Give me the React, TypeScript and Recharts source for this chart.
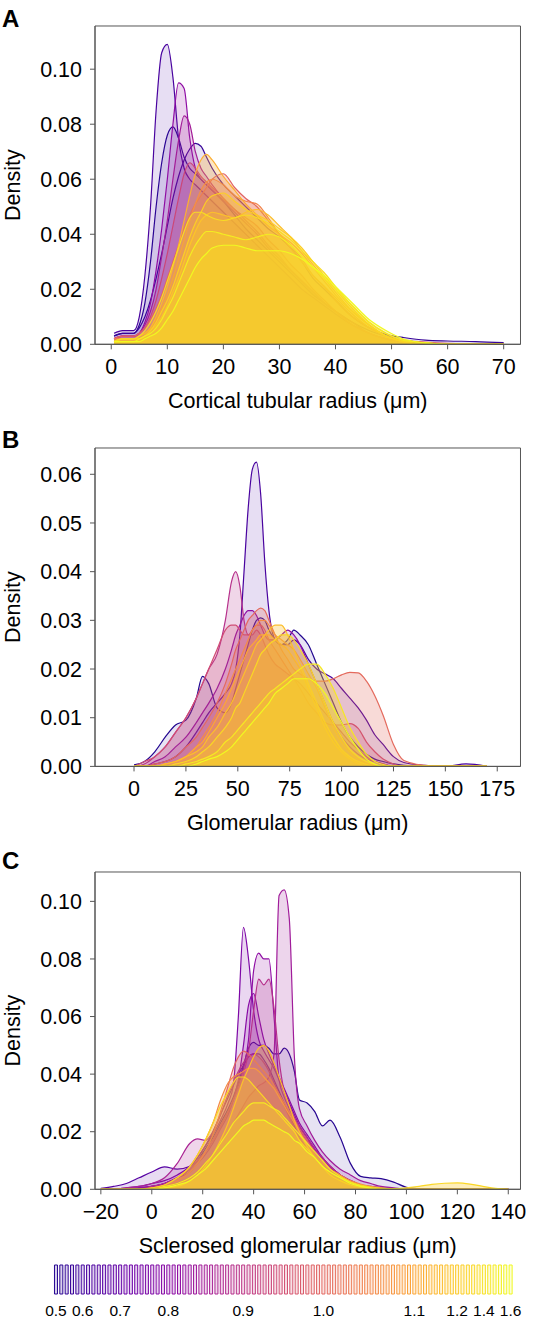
import React from 'react';
import { ComposedChart, Area, XAxis, YAxis, ReferenceArea, Label, BarChart, Bar, Cell } from 'recharts';

// ---------- Panel A: cortical tubular radius (um) ----------
const xA = [0.5, 2, 4, 5, 6, 7, 8, 9, 10, 11, 12, 13, 14, 15, 16, 17, 18, 20, 22, 24, 26, 28, 30, 32, 34, 36, 38, 40, 43, 46, 49, 52, 56, 60, 65, 70];
const A1 = [.004, .005, .005, .010, .025, .050, .085, .106, .109, .097, .075, .064, .060, .058, .056, .054, .052, .048, .044, .040, .036, .032, .028, .024, .020, .017, .014, .011, .007, .004, .002, .001, .0005, 0, 0, 0];
const A2 = [.003, .004, .004, .007, .015, .030, .050, .066, .076, .079, .075, .068, .064, .062, .060, .058, .056, .052, .047, .042, .038, .034, .030, .026, .022, .018, .015, .012, .008, .005, .003, .0015, .0005, 0, 0, 0];
const A3 = [.002, .003, .003, .004, .008, .015, .027, .042, .060, .080, .095, .093, .075, .064, .060, .058, .056, .052, .048, .044, .040, .035, .031, .027, .023, .019, .015, .012, .007, .004, .002, .001, 0, 0, 0, 0];
const A4 = [.002, .003, .003, .004, .007, .012, .020, .032, .045, .060, .074, .083, .080, .070, .064, .061, .058, .053, .049, .045, .041, .036, .032, .027, .023, .019, .015, .012, .008, .004, .002, .001, 0, 0, 0, 0];
const A5 = [.003, .004, .004, .006, .010, .016, .024, .033, .043, .053, .061, .067, .071, .073, .072, .068, .064, .058, .054, .050, .046, .042, .039, .035, .030, .024, .020, .016, .010, .006, .0035, .0025, .0015, .0012, .001, .0006];
const A6 = [.002, .003, .003, .004, .006, .009, .013, .018, .024, .030, .036, .042, .047, .051, .054, .057, .060, .062, .057, .053, .050, .045, .040, .036, .031, .025, .021, .016, .010, .006, .003, .0015, .0008, .0003, 0, 0];
const A7 = [.002, .003, .003, .004, .006, .010, .016, .024, .033, .043, .053, .062, .066, .064, .061, .059, .057, .053, .049, .046, .043, .038, .034, .029, .025, .020, .016, .012, .007, .004, .002, .001, 0, 0, 0, 0];
const A8 = [.002, .002, .002, .003, .004, .006, .009, .013, .018, .024, .031, .038, .045, .051, .056, .059, .060, .058, .054, .052, .051, .046, .040, .035, .030, .025, .021, .017, .011, .006, .003, .001, 0, 0, 0, 0];
const A9 = [.001, .002, .002, .003, .004, .006, .010, .015, .021, .028, .036, .045, .054, .062, .067, .069, .067, .061, .056, .051, .047, .043, .040, .037, .033, .028, .023, .018, .012, .007, .003, .001, 0, 0, 0, 0];
const A10 = [.001, .002, .002, .002, .003, .005, .007, .010, .014, .019, .024, .030, .036, .041, .045, .047, .048, .047, .046, .048, .049, .047, .043, .039, .034, .029, .024, .019, .012, .007, .003, .001, 0, 0, 0, 0];
const A11 = [.001, .002, .002, .002, .003, .005, .008, .012, .016, .021, .027, .033, .039, .044, .048, .052, .054, .055, .052, .049, .047, .045, .042, .039, .035, .030, .025, .020, .013, .007, .003, .001, 0, 0, 0, 0];
const A12 = [.001, .002, .002, .003, .005, .008, .012, .017, .023, .029, .035, .041, .046, .048, .048, .047, .046, .045, .046, .047, .046, .044, .041, .038, .034, .030, .026, .021, .014, .008, .004, .0015, .0005, 0, 0, 0];
const A13 = [.001, .001, .001, .002, .003, .004, .006, .009, .013, .017, .022, .027, .032, .036, .039, .041, .041, .040, .039, .038, .039, .040, .039, .036, .032, .028, .024, .020, .014, .008, .004, .0015, .0005, 0, 0, 0];
const A14 = [.001, .001, .001, .001, .002, .003, .004, .006, .009, .012, .016, .020, .024, .028, .031, .033, .035, .036, .036, .035, .034, .034, .034, .033, .031, .028, .025, .021, .015, .009, .005, .002, .0005, 0, 0, 0];
const curvesA = [A1, A2, A3, A4, A5, A6, A7, A8, A9, A10, A11, A12, A13, A14];
const tonesA = [0.12, 0.05, 0.3, 0.36, 0.08, 0.6, 0.5, 0.7, 0.82, 0.86, 0.9, 0.93, 0.97, 1.0];

// ---------- Panel B: glomerular radius (um) ----------
const xB = [0, 5, 10, 15, 20, 25, 30, 33, 36, 40, 44, 47, 49, 51, 53, 55, 57, 59, 61, 63, 65, 68, 71, 74, 77, 80, 84, 88, 92, 96, 100, 104, 108, 112, 116, 120, 125, 130, 140, 150, 160, 170];
const B1 = [0, 0, .0005, .001, .002, .004, .007, .009, .011, .013, .015, .017, .020, .027, .040, .053, .061, .0625, .056, .042, .032, .026, .025, .025, .026, .025, .022, .020, .019, .018, .016, .014, .012, .0095, .0065, .0045, .002, .0008, .0002, 0, .0005, 0];
const B2 = [.0003, .001, .003, .006, .0085, .0095, .014, .0185, .017, .012, .011, .013, .016, .019, .022, .025, .028, .030, .0305, .030, .028, .026, .025, .026, .028, .027, .025, .021, .017, .013, .009, .006, .004, .0025, .0015, .001, .0005, .0002, 0, 0, 0, 0];
const B3 = [0, .0005, .002, .004, .007, .010, .014, .017, .020, .023, .030, .038, .040, .037, .030, .027, .027, .028, .027, .025, .023, .021, .020, .019, .018, .017, .015, .013, .011, .009, .007, .005, .0035, .002, .001, .0005, 0, 0, 0, 0, 0, 0];
const B4 = [0, 0, .001, .002, .004, .006, .009, .011, .013, .016, .020, .024, .027, .029, .031, .032, .032, .031, .029, .027, .026, .026, .027, .028, .027, .025, .021, .017, .013, .009, .006, .004, .0025, .0015, .001, .0005, 0, 0, 0, 0, 0, 0];
const B5 = [0, 0, .0005, .001, .002, .004, .006, .008, .010, .013, .017, .021, .024, .026, .028, .030, .031, .032, .0325, .032, .030, .027, .024, .022, .020, .019, .018, .0175, .0175, .018, .0188, .0193, .0192, .0175, .0145, .0105, .0045, .0012, .0002, 0, 0, 0];
const B6 = [0, .001, .002, .004, .007, .010, .014, .017, .020, .024, .028, .029, .029, .028, .027, .027, .028, .029, .029, .028, .026, .024, .022, .020, .018, .016, .013, .011, .009, .0085, .0085, .0088, .0078, .005, .003, .0015, .0005, 0, 0, 0, 0, 0];
const B7 = [0, 0, 0, .0005, .001, .002, .004, .006, .008, .011, .015, .018, .020, .022, .024, .026, .028, .029, .030, .030, .029, .027, .026, .025, .024, .022, .019, .016, .012, .008, .005, .003, .0015, .0007, .0003, 0, 0, 0, 0, 0, 0, 0];
const B8 = [0, 0, 0, .0005, .001, .002, .004, .005, .007, .010, .013, .016, .018, .020, .022, .024, .025, .026, .027, .027, .027, .026, .025, .024, .022, .020, .016, .012, .008, .005, .003, .0015, .0006, 0, 0, 0, 0, 0, 0, 0, 0, 0];
const B9 = [0, 0, 0, .0005, .001, .002, .003, .004, .006, .008, .011, .013, .015, .017, .019, .021, .023, .025, .026, .027, .028, .029, .029, .027, .024, .021, .017, .013, .009, .006, .0035, .002, .001, .0004, 0, 0, 0, 0, 0, 0, 0, 0];
const B10 = [0, 0, 0, 0, .0005, .001, .002, .003, .004, .006, .008, .010, .012, .013, .015, .017, .019, .021, .023, .024, .025, .026, .027, .027, .026, .024, .021, .017, .013, .009, .006, .0035, .002, .001, .0004, 0, 0, 0, 0, 0, 0, 0];
const B11 = [0, 0, 0, 0, 0, .0005, .001, .0015, .002, .003, .005, .006, .007, .008, .009, .010, .011, .012, .013, .014, .015, .016, .017, .018, .019, .020, .021, .021, .019, .016, .012, .008, .005, .0025, .001, .0004, 0, 0, 0, 0, 0, 0];
const B12 = [0, 0, 0, 0, 0, 0, .0005, .001, .0015, .002, .003, .004, .005, .006, .007, .008, .009, .010, .011, .012, .013, .015, .016, .017, .018, .018, .018, .017, .015, .012, .009, .006, .0035, .0015, .0005, 0, 0, 0, 0, 0, 0, 0];
const curvesB = [B1, B2, B3, B4, B5, B6, B7, B8, B9, B10, B11, B12];
const tonesB = [0.12, 0.04, 0.42, 0.3, 0.62, 0.52, 0.72, 0.8, 0.86, 0.92, 0.96, 1.0];

// ---------- Panel C: sclerosed glomerular radius (um) ----------
const xC = [-20, -15, -10, -5, 0, 5, 10, 15, 18, 21, 24, 27, 30, 32, 34, 36, 38, 40, 42, 44, 46, 48, 50, 52, 54, 56, 58, 61, 64, 67, 70, 74, 78, 82, 86, 90, 95, 100, 105, 110, 115, 120, 125, 130, 135, 140];
const C1 = [0, 0, 0, 0, .0005, .001, .002, .004, .006, .009, .012, .016, .020, .023, .026, .029, .032, .034, .036, .037, .039, .047, .102, .104, .094, .046, .028, .022, .017, .013, .010, .007, .005, .003, .002, .001, .0005, 0, 0, 0, 0, 0, 0, 0, 0, 0];
const C2 = [0, 0, .0005, .001, .002, .003, .005, .008, .011, .015, .019, .024, .030, .036, .060, .091, .080, .062, .052, .048, .045, .042, .038, .034, .030, .026, .022, .018, .014, .011, .008, .005, .003, .0015, .0007, .0003, 0, 0, 0, 0, 0, 0, 0, 0, 0, 0];
const C3 = [0, 0, 0, .0005, .001, .002, .004, .007, .010, .013, .017, .022, .027, .031, .036, .042, .052, .076, .082, .080, .080, .060, .038, .032, .028, .024, .021, .017, .014, .011, .008, .005, .003, .0015, .0008, .0003, 0, 0, 0, 0, 0, 0, 0, 0, 0, 0];
const C4 = [0, 0, 0, 0, .001, .002, .004, .007, .010, .013, .017, .022, .027, .031, .035, .040, .048, .062, .073, .071, .073, .063, .045, .034, .029, .025, .022, .018, .014, .011, .008, .005, .003, .0015, .0007, .0003, 0, 0, 0, 0, 0, 0, 0, 0, 0, 0];
const C5 = [0, 0, 0, 0, .001, .002, .004, .006, .009, .012, .016, .021, .026, .031, .038, .050, .064, .068, .060, .052, .047, .043, .039, .035, .031, .027, .023, .019, .015, .011, .008, .005, .003, .0015, .0007, 0, 0, 0, 0, 0, 0, 0, 0, 0, 0, 0];
const C6 = [0, 0, 0, .0005, .001, .002, .004, .007, .010, .014, .018, .023, .028, .032, .037, .043, .049, .051, .050, .050, .049, .047, .047, .049, .047, .041, .031, .030, .027, .022, .024, .018, .009, .0045, .004, .0037, .0025, .0007, .0002, 0, 0, 0, 0, 0, 0, 0];
const C7 = [.0003, .001, .002, .004, .006, .0078, .007, .008, .011, .015, .020, .026, .032, .036, .040, .043, .046, .047, .047, .045, .042, .038, .034, .030, .026, .022, .018, .014, .011, .008, .006, .004, .0025, .0015, .001, .0005, .0002, 0, 0, 0, 0, 0, 0, 0, 0, 0];
const C8 = [0, 0, .0005, .001, .002, .004, .009, .016, .0175, .017, .020, .026, .033, .037, .041, .044, .046, .047, .046, .044, .041, .037, .033, .029, .025, .021, .018, .014, .011, .008, .006, .004, .0025, .0015, .0008, .0003, 0, 0, 0, 0, 0, 0, 0, 0, 0, 0];
const C9 = [0, 0, 0, 0, .0005, .001, .003, .006, .009, .013, .019, .027, .036, .042, .046, .048, .047, .045, .043, .041, .039, .036, .033, .030, .027, .024, .021, .017, .013, .010, .007, .0045, .0025, .0012, .0005, 0, 0, 0, 0, 0, 0, 0, 0, 0, 0, 0];
const C10 = [0, 0, 0, 0, .0005, .0015, .004, .008, .012, .017, .023, .031, .037, .039, .040, .041, .042, .042, .041, .039, .037, .035, .032, .029, .026, .023, .020, .016, .012, .009, .007, .005, .003, .0018, .001, .0005, 0, 0, 0, 0, 0, 0, 0, 0, 0, 0];
const C11 = [0, 0, 0, 0, 0, .0005, .001, .003, .005, .008, .012, .017, .023, .028, .033, .038, .042, .046, .049, .050, .048, .044, .039, .034, .029, .024, .020, .015, .011, .008, .005, .003, .0015, .0007, .0003, 0, 0, 0, 0, 0, 0, 0, 0, 0, 0, 0];
const C12 = [0, 0, 0, 0, .0005, .0015, .004, .008, .012, .017, .023, .029, .034, .037, .039, .039, .038, .036, .034, .032, .030, .028, .026, .024, .022, .020, .017, .014, .011, .008, .006, .004, .0025, .0015, .0008, .0004, .0002, .0005, .001, .0017, .0021, .0022, .0018, .001, .0003, 0];
const C13 = [0, 0, 0, 0, 0, .001, .002, .004, .006, .009, .012, .016, .020, .023, .025, .027, .029, .030, .030, .030, .029, .028, .027, .025, .023, .021, .019, .016, .013, .010, .007, .0045, .0025, .0012, .0005, 0, 0, 0, 0, 0, 0, 0, 0, 0, 0, 0];
const C14 = [0, 0, 0, 0, 0, .0005, .0015, .003, .005, .007, .010, .013, .016, .018, .020, .022, .023, .024, .024, .024, .023, .022, .021, .020, .019, .017, .016, .013, .011, .008, .006, .004, .002, .001, .0004, 0, 0, 0, 0, 0, 0, 0, 0, 0, 0, 0];
const curvesC = [C1, C2, C3, C4, C5, C6, C7, C8, C9, C10, C11, C12, C13, C14];
const tonesC = [0.35, 0.25, 0.3, 0.42, 0.28, 0.05, 0.15, 0.38, 0.6, 0.72, 0.86, 0.92, 0.96, 1.0];

// ---------- colour bar ----------
const colorbarCount = 86;
const colorbarTickIndex = [0, 5, 12, 21, 35, 50, 67, 75, 80, 85];
const colorbarTickLabels = ['0.5', '0.6', '0.7', '0.8', '0.9', '1.0', '1.1', '1.2', '1.4', '1.6'];

// plasma colormap stops
const PLASMA = ['#0d0887', '#41049d', '#6a00a8', '#8f0da4', '#b12a90', '#cc4778', '#e16462', '#f2844b', '#fca636', '#fcce25', '#f0f921'];

function plasma(t: number) {
  const p = Math.max(0, Math.min(1, t)) * 10;
  const i = Math.min(9, Math.floor(p));
  const f = p - i;
  const a = PLASMA[i], b = PLASMA[i + 1];
  const ch = (s: string, k: number) => parseInt(s.slice(1 + k * 2, 3 + k * 2), 16);
  const mix = [0, 1, 2].map((k) => Math.round(ch(a, k) + (ch(b, k) - ch(a, k)) * f));
  return `rgb(${mix[0]},${mix[1]},${mix[2]})`;
}

// fills of the yellow end are pulled toward gold, like the dense overlap in the original
const fillTone = (t: number) => (t > 0.86 ? 0.86 + (t - 0.86) * 0.55 : t);

const FONT = '"Liberation Sans", Arial, Helvetica, sans-serif';
const AXIS = '#555';

function buildRows(xs: number[], curves: number[][]) {
  return xs.map((x, i) => {
    const row: Record<string, number> = { x };
    curves.forEach((c, k) => { row['s' + k] = c[i]; });
    return row;
  });
}

const fmtX = (v: number) => (v < 0 ? '\u2212' + Math.abs(v) : String(v));

interface PanelProps {
  letter: string;
  letterTop: number;
  plotTop: number;
  plotBottom: number;
  xs: number[];
  curves: number[][];
  tones: number[];
  xDomain: [number, number];
  xTicks: number[];
  yMax: number;
  yTicks: number[];
  xLabel: string;
}

function DensityPanel({ letter, letterTop, plotTop, plotBottom, xs, curves, tones, xDomain, xTicks, yMax, yTicks, xLabel }: PanelProps) {
  const data = buildRows(xs, curves);
  const order = tones.map((_, i) => i).sort((a, b) => tones[a] - tones[b]);
  const height = plotBottom - plotTop + 26 + 74;
  return (
    <>
      <div style={{ position: 'absolute', left: 2, top: letterTop, fontFamily: FONT, fontWeight: 'bold', fontSize: 24, lineHeight: 1 }}>
        {letter}
      </div>
      <div style={{ position: 'absolute', left: 0, top: plotTop - 26 }}>
        <ComposedChart width={537} height={height} data={data} margin={{ top: 26, right: 16.5, bottom: 4, left: 0 }}>
          <XAxis
            dataKey="x"
            type="number"
            domain={xDomain}
            ticks={xTicks}
            allowDataOverflow
            height={70}
            stroke={AXIS}
            tickSize={5}
            tickMargin={9}
            tickFormatter={fmtX}
            tick={{ fill: '#000', fontSize: 21.5, fontFamily: FONT }}
          >
            <Label value={xLabel} position="insideBottom" offset={6} dx={-10} style={{ fill: '#000', fontSize: 21.5, fontFamily: FONT }} />
          </XAxis>
          <YAxis
            type="number"
            domain={[0, yMax]}
            ticks={yTicks}
            allowDataOverflow
            width={95}
            stroke={AXIS}
            tickSize={5}
            tickMargin={8}
            tickFormatter={(v: number) => v.toFixed(2)}
            tick={{ fill: '#000', fontSize: 21.5, fontFamily: FONT }}
          >
            <Label value="Density" angle={-90} position="insideLeft" offset={12} style={{ fill: '#000', fontSize: 21.5, fontFamily: FONT, textAnchor: 'middle' }} />
          </YAxis>
          {order.map((k) => (
            <Area
              key={k}
              type="monotone"
              dataKey={'s' + k}
              stroke={plasma(tones[k])}
              strokeWidth={1.2}
              fill={plasma(fillTone(tones[k]))}
              fillOpacity={0.1 + 0.24 * tones[k]}
              dot={false}
              activeDot={false}
              isAnimationActive={false}
            />
          ))}
          <ReferenceArea x1={xDomain[0]} x2={xDomain[1]} y1={0} y2={yMax} fill="none" stroke={AXIS} strokeWidth={1} ifOverflow="visible" />
        </ComposedChart>
      </div>
    </>
  );
}

function Colorbar() {
  const bars = Array.from({ length: colorbarCount }, (_, i) => ({ i, v: 1 }));
  const toneOf = (i: number) => 0.05 + (0.95 * i) / (colorbarCount - 1);
  return (
    <div style={{ position: 'absolute', left: 0, top: 1255 }}>
      <BarChart width={537} height={66} data={bars} margin={{ top: 10, right: 23.7, bottom: 0, left: 53.3 }} barCategoryGap="22%">
        <XAxis
          dataKey="i"
          ticks={colorbarTickIndex}
          interval={0}
          height={27}
          axisLine={false}
          tickLine={false}
          tickSize={0}
          tickMargin={11}
          tickFormatter={(i: number) => colorbarTickLabels[colorbarTickIndex.indexOf(i)] ?? ''}
          tick={{ fill: '#000', fontSize: 15.5, fontFamily: FONT }}
        />
        <YAxis hide domain={[0, 1]} />
        <Bar dataKey="v" isAnimationActive={false}>
          {bars.map((b) => (
            <Cell key={b.i} fill={plasma(toneOf(b.i))} fillOpacity={0.18} stroke={plasma(toneOf(b.i))} strokeWidth={1} />
          ))}
        </Bar>
      </BarChart>
    </div>
  );
}

export default function App() {
  return (
    <div style={{ position: 'absolute', left: 0, top: 0, width: 537, height: 1321, background: '#fff' }}>
      <DensityPanel
        letter="A"
        letterTop={7}
        plotTop={26}
        plotBottom={344.3}
        xs={xA}
        curves={curvesA}
        tones={tonesA}
        xDomain={[-2.9, 73.0]}
        xTicks={[0, 10, 20, 30, 40, 50, 60, 70]}
        yMax={0.1157}
        yTicks={[0, 0.02, 0.04, 0.06, 0.08, 0.1]}
        xLabel="Cortical tubular radius (μm)"
      />
      <DensityPanel
        letter="B"
        letterTop={428}
        plotTop={448.3}
        plotBottom={766.7}
        xs={xB}
        curves={curvesB}
        tones={tonesB}
        xDomain={[-18.8, 186.2]}
        xTicks={[0, 25, 50, 75, 100, 125, 150, 175]}
        yMax={0.0654}
        yTicks={[0, 0.01, 0.02, 0.03, 0.04, 0.05, 0.06]}
        xLabel="Glomerular radius (μm)"
      />
      <DensityPanel
        letter="C"
        letterTop={849}
        plotTop={871.7}
        plotBottom={1189}
        xs={xC}
        curves={curvesC}
        tones={tonesC}
        xDomain={[-22.3, 144.8]}
        xTicks={[-20, 0, 20, 40, 60, 80, 100, 120, 140]}
        yMax={0.1102}
        yTicks={[0, 0.02, 0.04, 0.06, 0.08, 0.1]}
        xLabel="Sclerosed glomerular radius (μm)"
      />
      <Colorbar />
    </div>
  );
}
